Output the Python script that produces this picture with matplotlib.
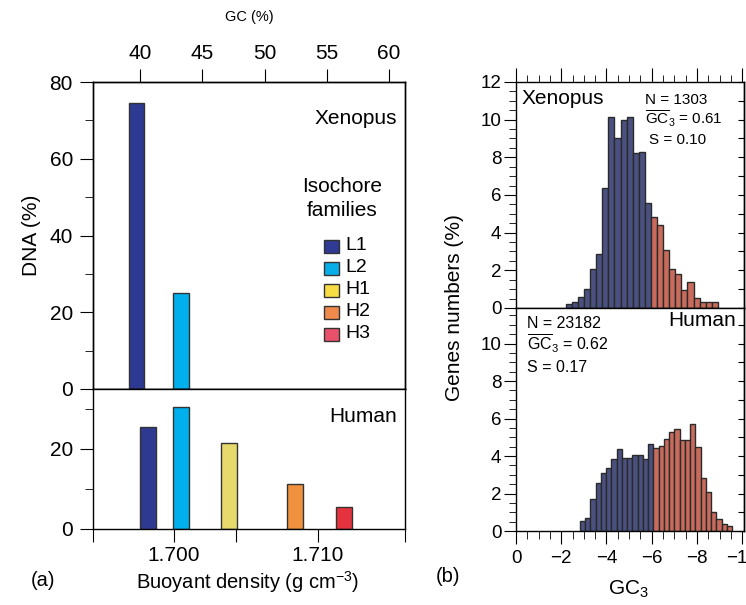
import numpy as np
import matplotlib
matplotlib.use('Agg')
import matplotlib.pyplot as plt
from matplotlib.patches import Rectangle
from matplotlib.ticker import MultipleLocator, FixedLocator, NullFormatter

plt.rcParams['font.family'] = ['Liberation Sans', 'DejaVu Sans']
plt.rcParams['mathtext.fontset'] = 'custom'
plt.rcParams['mathtext.rm'] = 'Liberation Sans'
plt.rcParams['mathtext.it'] = 'Liberation Sans:italic'
plt.rcParams['axes.linewidth'] = 1.0

# (a) isochore families, DNA (%) vs buoyant density
families = ['L1', 'L2', 'H1', 'H2', 'H3']
bar_colors = ['#2e3a92', '#00b0ec', '#e8d96c', '#f0913f', '#e6323e']
legend_colors = ['#2e3a94', '#08aee8', '#f7dc44', '#f08a4c', '#e9516a']
xen_density = [1.6974, 1.7005]
xen_dna = [74.5, 25.0]
hum_density = [1.6982, 1.7005, 1.7038, 1.7084, 1.7118]
hum_dna = [25.5, 30.5, 21.5, 11.2, 5.5]
gc_ticks = [40, 45, 50, 55, 60]

# (b) GC3 histograms (% of genes per bin), first `split` bins drawn blue
xen_start, xen_width, xen_split = 0.220, 0.0269, 14
xen_pct = [0.19, 0.32, 0.6, 1.0, 2.05, 2.87, 6.35, 10.12, 9.04, 9.98, 10.16, 8.25, 8.3, 5.6,
           4.81, 4.4, 3.1, 2.05, 1.8, 0.95, 1.38, 0.51, 0.32, 0.34, 0.34]
hum_start, hum_width, hum_split = 0.282, 0.02324, 14
hum_pct = [0.55, 0.68, 1.7, 2.55, 3.08, 3.35, 3.83, 4.37, 3.89, 3.89, 4.03, 4.03, 3.83, 4.63,
           4.42, 4.56, 4.9, 5.28, 5.42, 4.87, 4.87, 5.7, 4.49, 2.82, 2.07, 1.03, 0.62, 0.39, 0.29]
gc3_ticks = [0, 0.2, 0.4, 0.6, 0.8, 1.0]
gc3_labels = ['0', '\u22122', '\u22124', '\u22126', '\u22128', '\u221210']

W, H = 746, 605
fig = plt.figure(figsize=(W / 100, H / 100), dpi=100)

def box(x0, y0, x1, y1):
    return [x0 / W, 1 - y1 / H, (x1 - x0) / W, (y1 - y0) / H]

def ftext(x, y, s, **kw):
    fig.text(x / W, 1 - y / H, s, **kw)

bw = 0.00108
dlim = (1.69437, 1.71604)
edge = '#333333'

# ---- (a) top: Xenopus
axA1 = fig.add_axes(box(93, 82, 405, 389))
axA1.bar(xen_density, xen_dna, width=bw, color=bar_colors[:2], edgecolor=edge, linewidth=1)
axA1.set_xlim(dlim)
axA1.set_ylim(0, 80)
axA1.yaxis.set_major_locator(MultipleLocator(20))
axA1.yaxis.set_minor_locator(MultipleLocator(10))
axA1.tick_params(axis='x', which='both', bottom=False, labelbottom=False)
axA1.tick_params(axis='y', which='major', direction='out', length=9.4, labelsize=15, pad=5)
axA1.tick_params(axis='y', which='minor', direction='out', length=5.8)
axA1.set_ylabel('DNA (%)', fontsize=15, labelpad=6)
axA1.text(0.975, 0.88, 'Xenopus', transform=axA1.transAxes, ha='right', va='center', fontsize=15)

gc = axA1.twiny()
gc.set_xlim(36.23, 61.28)
gc.set_xticks(gc_ticks)
gc.tick_params(axis='x', direction='out', length=9.4, labelsize=15, pad=4)
ftext(249, 17, 'GC (%)', ha='center', va='center', fontsize=10.5)

# legend
ftext(342, 187, 'Isochore', ha='center', va='center', fontsize=15)
ftext(342, 210, 'families', ha='center', va='center', fontsize=15)
for i, (name, c) in enumerate(zip(families, legend_colors)):
    yc = 246 + i * 22
    fig.add_artist(Rectangle((324 / W, 1 - (yc + 6.5) / H), 15 / W, 13 / H,
                             transform=fig.transFigure, facecolor=c, edgecolor=edge, linewidth=1))
    ftext(345, yc, name, ha='left', va='center', fontsize=14)

# ---- (a) bottom: Human
axA2 = fig.add_axes(box(93, 389, 405, 529))
axA2.bar(hum_density, hum_dna, width=bw, color=bar_colors, edgecolor=edge, linewidth=1)
axA2.set_xlim(dlim)
axA2.set_ylim(0, 35)
axA2.yaxis.set_major_locator(MultipleLocator(20))
axA2.yaxis.set_minor_locator(MultipleLocator(10))
axA2.tick_params(axis='y', which='major', direction='out', length=9.4, labelsize=15, pad=5)
axA2.tick_params(axis='y', which='minor', direction='out', length=5.8)
axA2.xaxis.set_major_locator(FixedLocator([dlim[0] + 1e-6, 1.700, 1.7043, 1.710, dlim[1] - 1e-6]))
axA2.set_xticklabels(['', '1.700', '', '1.710', ''])
axA2.xaxis.set_minor_locator(FixedLocator([1.700, 1.7043, 1.710]))
axA2.tick_params(axis='x', which='major', direction='out', length=9.4, labelsize=15, pad=3,
                 bottom=True, top=False)
axA2.tick_params(axis='x', which='minor', direction='in', length=5.8, bottom=False, top=True)
axA2.text(0.975, 0.80, 'Human', transform=axA2.transAxes, ha='right', va='center', fontsize=15)
ftext(248, 582, 'Buoyant density (g cm$^{\u22123}$)', ha='center', va='center', fontsize=14.5)
ftext(43, 580, '(a)', ha='center', va='center', fontsize=14.5)

# ---- (b) GC3 histograms
blue, red = '#4a5181', '#c86b5c'

def hist_panel(ax, start, width, pct, split):
    edges = start + width * np.arange(len(pct))
    cols = [blue] * split + [red] * (len(pct) - split)
    ax.bar(edges, pct, width=width, align='edge', color=cols, edgecolor='#2a2a2a', linewidth=1)
    ax.set_xlim(0, 1.008)
    ax.yaxis.set_major_locator(MultipleLocator(2))
    ax.yaxis.set_minor_locator(MultipleLocator(0.5))
    ax.tick_params(axis='y', which='major', direction='out', length=8.6, labelsize=13.5, pad=2)
    ax.tick_params(axis='y', which='minor', direction='out', length=5)
    sec = ax.secondary_yaxis('right')
    sec.yaxis.set_major_locator(MultipleLocator(1))
    sec.yaxis.set_major_formatter(NullFormatter())
    sec.tick_params(direction='in', length=4)
    ax.xaxis.set_major_locator(FixedLocator(gc3_ticks))
    ax.xaxis.set_minor_locator(MultipleLocator(0.05))

axB1 = fig.add_axes(box(516, 82, 744, 308))
hist_panel(axB1, xen_start, xen_width, xen_pct, xen_split)
axB1.set_ylim(0, 12)
axB1.tick_params(axis='x', which='both', bottom=False, labelbottom=False, top=True,
                 direction='out')
axB1.tick_params(axis='x', which='major', length=10)
axB1.tick_params(axis='x', which='minor', length=5)
ftext(522, 99, 'Xenopus', ha='left', va='center', fontsize=15)
ftext(645, 100, 'N = 1303', ha='left', va='center', fontsize=11)
ftext(645, 119, r'$\overline{\mathrm{GC}}_3$ = 0.61', ha='left', va='center', fontsize=11)
ftext(649, 140, 'S = 0.10', ha='left', va='center', fontsize=11)

axB2 = fig.add_axes(box(516, 308, 744, 531))
hist_panel(axB2, hum_start, hum_width, hum_pct, hum_split)
axB2.set_ylim(0, 11.9)
axB2.yaxis.set_major_locator(FixedLocator([0, 2, 4, 6, 8, 10]))
axB2.set_xticklabels(gc3_labels)
axB2.tick_params(axis='x', which='both', direction='out', labelsize=13.5, pad=4)
axB2.tick_params(axis='x', which='major', length=9.4)
axB2.tick_params(axis='x', which='minor', length=5.8)
ftext(736, 320, 'Human', ha='right', va='center', fontsize=15)
ftext(527, 323, 'N = 23182', ha='left', va='center', fontsize=11.5)
ftext(527, 344, r'$\overline{\mathrm{GC}}_3$ = 0.62', ha='left', va='center', fontsize=11.5)
ftext(527, 368, 'S = 0.17', ha='left', va='center', fontsize=11.5)

ftext(455, 308, 'Genes numbers (%)', ha='center', va='center', rotation=90, fontsize=15)
ftext(628, 589, 'GC$_3$', ha='center', va='center', fontsize=15)
ftext(448, 577, '(b)', ha='center', va='center', fontsize=14.5)

fig.savefig('out.png', dpi=100)
